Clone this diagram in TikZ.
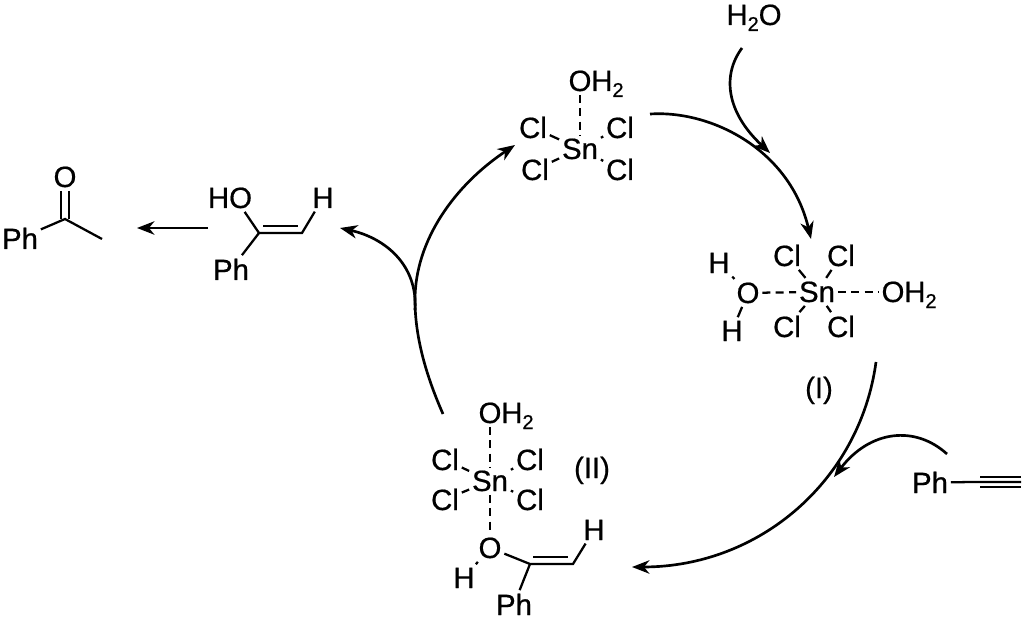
\documentclass[tikz,border=0pt]{standalone}
\usepackage{fontspec}
\setmainfont[FakeBold=0.6]{Liberation Sans}
\usepackage{tikz}
\usetikzlibrary{arrows.meta, positioning}
\newcommand{\subtwo}{\lower 4.5pt\hbox{\fontsize{15}{15}\selectfont 2}}
\tikzset{
    atom/.style={anchor=base, inner xsep=2pt, inner ysep=2.5pt, font=\fontsize{22}{26}\selectfont},
    tail/.style={atom, anchor=base west, inner xsep=0pt, xshift=-2.5pt},
    bond/.style={line width=1.7pt},
    dashbond/.style={line width=1.7pt, dash pattern=on 6pt off 4pt},
    curvearrow/.style={line width=2pt, -{Stealth[length=13pt, width=10pt, inset=4pt]}},
    plainarc/.style={line width=2pt}
}
\begin{document}
\begin{tikzpicture}[x=0.75pt, y=-0.75pt]
    \useasboundingbox (0,0) rectangle (1024,620);

    \node[atom] (phk) at (20,249) {Ph};
    \node[atom] (ok) at (65,187) {O};
    \coordinate (ck) at (65,219);
    \coordinate (mek) at (102,239);
    \draw[bond] (phk) -- (ck) -- (mek);
    \draw[bond] ([xshift=-3pt]ok.south) -- ([xshift=-3pt]ck);
    \draw[bond] ([xshift=3pt]ok.south) -- ([xshift=3pt]ck);

    \node[atom] (hoe) at (230,208) {HO};
    \node[atom] (he) at (323,208) {H};
    \node[atom] (phe) at (231,280) {Ph};
    \coordinate (cea) at (259,233);
    \coordinate (ceb) at (302,233);
    \coordinate (cia) at (263,226);
    \coordinate (cib) at (298,226);
    \draw[bond] ([xshift=11pt]hoe.south) -- (cea) -- (ceb) -- (he);
    \draw[bond] (cea) -- (phe);
    \draw[bond] (cia) -- (cib);

    \node[atom] (sna) at (580,159) {Sn};
    \node[atom] (oa) at (580,91) {O};
    \node[tail] (ha) at (oa.base east) {H\subtwo};
    \node[atom] (cla) at (533,138) {Cl};
    \node[atom] (clb) at (620,138) {Cl};
    \node[atom] (clc) at (535,180) {Cl};
    \node[atom] (cld) at (620,180) {Cl};
    \draw[dashbond] (oa) -- (sna);
    \foreach \n in {cla,clb,clc,cld}
        \draw[bond] (sna) -- (\n);

    \node[atom] (snb) at (817,302) {Sn};
    \node[atom] (ob) at (748,303) {O};
    \node[atom] (hba) at (719,273) {H};
    \node[atom] (hbb) at (732,341) {H};
    \node[atom] (oc) at (893,302) {O};
    \node[tail] (hc) at (oc.base east) {H\subtwo};
    \node[atom] (cle) at (787,266) {Cl};
    \node[atom] (clf) at (841,266) {Cl};
    \node[atom] (clg) at (787,337) {Cl};
    \node[atom] (clh) at (841,337) {Cl};
    \draw[dashbond] (ob) -- (snb);
    \draw[dashbond] (snb) -- (oc);
    \draw[bond] (ob) -- (hba);
    \draw[bond] (ob) -- (hbb);
    \foreach \n in {cle,clf,clg,clh}
        \draw[bond] (snb) -- (\n);
    \node[atom] (la) at (819,398) {(I)};

    \node[atom] (snc) at (490,491) {Sn};
    \node[atom] (od) at (490,423) {O};
    \node[tail] (hd) at (od.base east) {H\subtwo};
    \node[atom] (cli) at (445,470) {Cl};
    \node[atom] (clj) at (530,470) {Cl};
    \node[atom] (clk) at (445,510) {Cl};
    \node[atom] (cll) at (530,510) {Cl};
    \node[atom] (oe) at (490,558) {O};
    \node[atom] (hea) at (464,588) {H};
    \node[atom] (heb) at (594,540) {H};
    \node[atom] (phf) at (514,615) {Ph};
    \node[atom] (lb) at (592,478) {(II)};
    \coordinate (cfa) at (530,564);
    \coordinate (cfb) at (573,564);
    \coordinate (cja) at (533,557);
    \coordinate (cjb) at (568,557);
    \draw[dashbond] (od) -- (snc);
    \draw[dashbond] (snc) -- (oe);
    \foreach \n in {cli,clj,clk,cll}
        \draw[bond] (snc) -- (\n);
    \draw[bond] (oe) -- (hea);
    \draw[bond] (oe) -- (cfa) -- (cfb) -- (heb);
    \draw[bond] (cfa) -- (phf);
    \draw[bond] (cja) -- (cjb);

    \node[atom] (water) at (754,25) {H\subtwo O};

    \node[atom] (phg) at (930,493) {Ph};
    \coordinate (tra) at (980,482);
    \coordinate (trb) at (1021,482);
    \draw[bond] (phg) -- (tra) -- (trb);
    \draw[bond] ([yshift=4pt]tra) -- ([yshift=4pt]trb);
    \draw[bond] ([yshift=-4pt]tra) -- ([yshift=-4pt]trb);

    \coordinate (sa) at (650,114);
    \coordinate (ea) at (811,239);
    \coordinate (sb) at (742,48);
    \coordinate (eb) at (770,153);
    \coordinate (sc) at (876,362);
    \coordinate (ec) at (632,567);
    \coordinate (sd) at (947,454);
    \coordinate (ed) at (834,477);
    \coordinate (se) at (443,414);
    \coordinate (te) at (415,300);
    \coordinate (ee) at (515,145);
    \coordinate (sf) at (415,310);
    \coordinate (ef) at (340,228);
    \coordinate (sg) at (208,228);
    \coordinate (eg) at (137,228);
    \draw[curvearrow] (sa) .. controls (712,110) and (790,150) .. (ea);
    \draw[curvearrow] (sb) .. controls (722,75) and (726,112) .. (eb);
    \draw[curvearrow] (sc) .. controls (860,480) and (760,567) .. (ec);
    \draw[curvearrow] (sd) .. controls (915,425) and (870,430) .. (ed);
    \draw[plainarc] (se) .. controls (428,380) and (415,340) .. (te);
    \draw[curvearrow] (te) .. controls (415,240) and (455,185) .. (ee);
    \draw[curvearrow] (sf) .. controls (418,265) and (385,238) .. (ef);
    \draw[curvearrow] (sg) -- (eg);
\end{tikzpicture}
\end{document}
